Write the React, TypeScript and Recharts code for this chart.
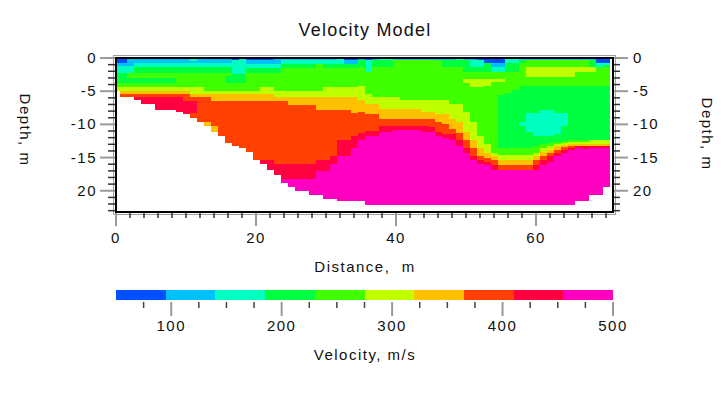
import React from 'react';
import { ComposedChart, XAxis, YAxis, Scatter, ReferenceArea } from 'recharts';

// distance of each model column (m)
const distances = [
  0, 1, 2, 3, 4, 5, 6, 7, 8, 9, 10, 11, 12, 13, 14, 15, 16, 17, 18, 19, 20,
  21, 22, 23, 24, 25, 26, 27, 28, 29, 30, 31, 32, 33, 34, 35, 36, 37, 38, 39, 40,
  41, 42, 43, 44, 45, 46, 47, 48, 49, 50, 51, 52, 53, 54, 55, 56, 57, 58, 59, 60,
  61, 62, 63, 64, 65, 66, 67, 68, 69, 70,
];

// one profile per column: "velocityClass:bottomDepth" from the surface down
const profiles = [
  '0:0.7 1:1.2 2:2.2 3:3.7 4:4.35 5:5.0',
  '0:0.7 1:1.2 2:2.2 3:3.7 4:4.35 5:4.9 6:5.4 7:5.8',
  '1:1.2 2:2.2 4:3.0 3:3.7 4:4.35 5:4.9 6:5.4 7:5.8',
  '1:0.8 2:1.35 3:2.2 4:3.0 3:3.7 4:4.35 5:4.9 6:5.4 7:5.85 8:6.4',
  '1:0.8 2:1.35 3:2.2 4:3.0 3:3.7 4:4.35 5:4.9 6:5.4 7:5.85 8:7.0',
  '1:0.8 2:1.35 3:2.2 4:3.0 3:3.7 4:4.35 5:4.9 6:5.4 7:5.85 8:7.0',
  '1:0.8 2:1.35 3:2.2 4:3.0 3:3.7 4:4.35 5:4.9 6:5.4 7:5.85 8:7.8',
  '1:0.8 2:1.35 3:2.2 4:3.0 3:3.7 4:4.35 5:4.9 6:5.4 7:5.85 8:7.8',
  '1:0.8 2:1.35 3:2.2 4:3.0 3:3.7 4:4.35 5:4.9 6:5.4 7:5.85 8:7.8',
  '1:0.8 2:1.35 3:2.2 4:4.35 5:4.9 6:5.4 7:5.85 8:8.2',
  '1:0.8 2:1.35 3:2.2 4:4.35 5:4.9 6:5.4 7:6.45 8:8.5',
  '2:0.4 1:0.8 2:1.35 3:2.2 4:4.35 5:5.4 6:5.85 7:6.45 8:8.25 7:9.1',
  '1:0.8 2:1.35 3:2.2 4:4.35 5:5.4 6:5.85 7:9.7',
  '1:0.8 2:1.35 3:2.2 4:4.95 5:5.4 6:5.85 7:9.7 6:10.2',
  '1:0.8 2:1.35 3:2.2 4:4.95 5:5.4 6:6.45 7:10.2 6:11.2',
  '1:0.8 2:1.35 3:2.2 4:4.95 5:5.4 6:6.45 7:11.8',
  '1:0.8 2:1.35 3:2.2 4:2.7 3:3.7 4:4.95 5:5.4 6:6.45 7:12.8',
  '0:0.35 2:2.4 3:3.75 4:4.95 5:5.4 6:6.45 7:13.2',
  '2:2.4 3:3.75 4:4.95 5:5.4 6:6.45 7:13.5',
  '0:0.35 1:0.9 2:1.5 3:2.25 4:4.95 5:5.4 6:6.45 7:14.2',
  '0:0.35 1:0.9 2:1.5 3:2.25 4:4.95 5:5.4 6:6.45 7:15.4',
  '0:0.35 1:0.9 2:1.5 3:2.25 4:4.35 5:5.4 6:6.45 7:15.4 8:16.0',
  '0:0.35 1:0.9 2:1.5 3:2.25 4:4.35 5:5.4 6:6.45 7:15.4 8:16.9',
  '1:0.9 2:1.5 3:2.25 4:4.95 5:5.85 6:6.45 7:15.9 8:17.7',
  '1:0.35 2:0.9 3:1.5 4:4.95 5:5.85 6:6.45 7:15.9 8:18.3 9:18.8',
  '1:0.35 2:0.9 3:1.5 4:4.95 5:5.85 6:7.05 7:15.9 8:18.3 9:19.4',
  '1:0.35 2:0.9 3:1.5 4:4.95 5:5.85 6:7.05 7:15.9 8:18.3 9:20.0',
  '1:0.35 2:0.9 3:1.5 4:4.95 5:5.85 6:7.05 7:15.9 8:18.3 9:20.0',
  '1:0.35 2:0.9 3:1.5 4:4.95 5:5.85 6:7.05 7:15.9 8:18.3 9:20.6',
  '1:0.35 2:0.9 4:4.95 5:5.85 6:7.8 7:15.4 8:17.0 9:20.6',
  '1:0.35 2:0.9 3:1.5 4:4.35 5:5.85 6:7.8 7:15.4 8:17.0 9:21.2',
  '1:0.35 2:0.9 3:1.5 4:4.35 5:5.85 6:7.8 7:14.8 8:15.9 9:21.2',
  '2:0.9 3:1.5 4:4.35 5:5.85 6:7.8 7:12.3 8:14.8 9:21.6',
  '0:0.35 1:0.9 3:1.5 4:4.35 5:5.85 6:7.8 7:12.3 8:14.8 9:21.6',
  '0:0.35 1:0.9 3:1.5 4:4.35 5:5.85 6:8.25 7:11.8 8:13.5 9:21.6',
  '1:0.35 3:1.4 4:4.2 5:6.3 6:8.1 7:11.3 8:12.3 9:21.6',
  '0:0.35 2:2.1 4:5.4 5:6.9 6:8.4 7:11.0 8:11.8 9:22.1',
  '1:0.35 3:1.4 4:5.9 5:6.9 6:8.4 7:11.0 8:11.8 9:22.1',
  '2:0.35 3:1.4 4:5.9 5:7.65 6:9.15 7:10.2 8:11.2 9:22.1',
  '2:0.35 3:1.4 4:5.9 5:7.65 6:9.15 7:10.2 8:11.2 9:22.1',
  '1:0.35 4:5.9 5:7.65 6:9.15 7:10.2 8:10.8 9:22.1',
  '1:0.35 4:6.4 5:7.65 6:9.15 7:10.2 8:10.8 9:22.1',
  '1:0.35 4:6.4 5:7.65 6:9.15 7:10.2 8:10.8 9:22.1',
  '1:0.35 4:6.4 5:7.65 6:9.15 7:10.2 8:10.8 9:22.1',
  '1:0.35 4:6.4 5:8.2 6:9.15 7:10.2 8:11.2 9:22.1',
  '1:0.35 4:6.4 5:8.2 6:9.15 7:10.4 8:11.2 9:22.1',
  '1:0.35 4:6.4 5:8.4 6:9.6 7:11.2 8:11.8 9:22.1',
  '1:0.35 3:1.4 4:6.4 5:8.5 6:9.9 7:11.4 8:12.0 9:22.1',
  '1:0.35 3:1.4 4:6.9 5:9.15 6:10.7 7:11.5 8:12.3 9:22.1',
  '2:0.35 3:1.4 4:6.9 5:9.6 6:11.3 7:12.3 8:13.3 9:22.1',
  '1:0.35 3:2.1 4:3.15 5:3.75 4:8.1 5:11.2 6:12.3 7:13.6 8:14.3 9:22.1',
  '1:0.35 2:1.35 3:2.1 4:3.15 5:4.35 4:9.7 5:12.3 6:13.6 7:14.8 8:15.4 9:22.1',
  '0:0.35 2:1.35 3:2.1 4:3.15 5:4.35 4:11.8 5:13.6 6:14.8 7:15.4 8:15.9 9:22.1',
  '0:0.7 3:2.1 4:3.15 5:4.25 4:13.0 5:14.3 6:15.1 7:15.6 8:16.1 9:22.1',
  '0:0.7 1:1.4 2:2.1 4:3.15 5:3.65 4:14.3 5:14.8 6:15.4 7:16.1 8:16.8 9:22.1',
  '0:0.7 1:1.4 2:2.1 4:3.15 5:3.65 4:5.6 3:13.6 4:14.6 5:15.3 6:16.1 7:16.8 9:22.1',
  '2:0.7 3:2.1 4:5.2 3:13.6 4:14.6 5:15.3 6:16.1 7:16.8 9:22.1',
  '2:0.7 3:2.1 4:4.8 3:13.6 4:14.6 5:15.3 6:16.1 7:16.8 9:22.1',
  '1:0.35 3:0.8 4:4.25 3:9.7 2:10.3 3:13.6 4:14.6 5:15.3 6:16.1 7:16.8 9:22.1',
  '1:0.35 4:1.4 5:2.8 4:4.25 3:8.3 2:11.2 3:13.6 4:14.6 5:15.3 6:16.1 7:16.8 9:22.1',
  '1:0.35 4:1.4 5:2.8 4:4.25 3:8.3 2:11.8 3:13.3 4:14.3 5:14.8 6:15.4 7:16.1 8:16.8 9:22.1',
  '1:0.35 4:1.4 5:2.8 4:4.25 3:7.8 2:11.8 3:13.0 4:13.6 5:14.1 6:14.8 7:15.4 8:16.1 9:22.1',
  '1:0.35 4:1.4 5:2.8 4:4.25 3:7.8 2:11.8 3:12.8 4:13.3 5:13.8 6:14.3 7:14.8 8:15.6 9:22.1',
  '1:0.35 4:1.4 5:2.8 4:4.25 3:8.3 2:11.4 3:12.6 4:13.0 5:13.3 6:13.8 7:14.3 8:14.8 9:22.1',
  '1:0.35 4:1.4 5:2.8 4:4.25 3:8.3 2:10.3 3:12.5 4:12.8 5:13.1 6:13.4 7:13.8 8:14.3 9:22.1',
  '1:0.35 4:1.4 5:2.8 4:4.25 3:12.4 4:12.7 5:13.0 6:13.3 7:13.6 8:13.8 9:22.1',
  '1:0.35 4:1.4 5:2.15 4:4.25 3:12.3 4:12.6 5:12.9 6:13.2 8:13.6 9:21.6',
  '1:0.35 4:1.4 5:2.15 4:4.25 3:12.3 4:12.6 5:12.9 6:13.2 8:13.7 9:21.6',
  '1:0.35 3:1.4 5:2.15 4:4.25 3:12.4 5:12.9 6:13.2 8:13.6 9:20.6',
  '0:0.7 2:1.4 4:4.25 3:12.4 5:12.9 6:13.2 8:13.6 9:20.6',
  '0:0.7 2:1.0 3:1.4 4:4.25 3:12.4 5:12.9 6:13.2 8:13.6 9:19.4',
];

// colour scale bins (m/s)
const velocityEdges = [50, 95, 140, 185, 230, 275, 320, 365, 410, 455, 500];
const velocityColors = [
  '#0050FF', '#00C0FF', '#00FFC0', '#00FF40', '#40FF00',
  '#C0FF00', '#FFC000', '#FF4000', '#FF0040', '#FF00C0',
];

const distanceTicks = [
  0, 2, 4, 6, 8, 10, 12, 14, 16, 18, 20, 22, 24, 26, 28, 30, 32, 34,
  36, 38, 40, 42, 44, 46, 48, 50, 52, 54, 56, 58, 60, 62, 64, 66, 68, 70,
];
const depthTicks = [0, 1, 2, 3, 4, 5, 6, 7, 8, 9, 10, 11, 12, 13, 14, 15, 16, 17, 18, 19, 20, 21, 22, 23];
const depthLabelValues = [0, 5, 10, 15, 20];
const depthLabelText = ['0', '-5', '-10', '-15', '20'];
const velocityTicks = [75, 100, 125, 150, 175, 200, 225, 250, 275, 300, 325, 350, 375, 400, 425, 450, 475, 500];

const X_MAX = 71;
const DEPTH_MAX = 23.2;
const FONT = "'Liberation Sans', Arial, Helvetica, sans-serif";

const cells = profiles.flatMap((profile, i) => {
  const x = distances[i];
  let top = 0;
  return profile.split(' ').map((tok) => {
    const [cls, bottom] = tok.split(':').map(Number);
    const cell = { x1: Math.max(0, x - 0.5), x2: Math.min(X_MAX, x + 0.5), y1: top, y2: bottom, cls };
    top = bottom;
    return cell;
  });
});

const crispRect = (p: any) => (
  <rect x={p.x} y={p.y} width={p.width} height={p.height} fill={p.fill} shapeRendering="crispEdges" />
);

const plotFrame = (p: any) => (
  <g fill="none">
    <rect x={p.x - 2.5} y={p.y - 2.5} width={p.width + 5} height={p.height + 5} stroke="#a0a0a0" strokeWidth={1} />
    <rect x={p.x} y={p.y} width={p.width} height={p.height} stroke="#000" strokeWidth={2} />
  </g>
);

const depthLabel = (v: number) => {
  const i = depthLabelValues.indexOf(v);
  return i >= 0 ? depthLabelText[i] : null;
};

const tickText = { fontSize: 15, fontFamily: FONT, letterSpacing: 1.5, fill: '#111' };

function DistanceTick({ x, y, payload }: any) {
  const major = payload.value % 20 === 0;
  return (
    <g>
      <line x1={x} x2={x} y1={y + 1} y2={y + (major ? 14 : 6)} stroke={major ? '#9a9a9a' : '#333'} strokeWidth={major ? 2 : 1.5} />
      {major && <text x={x} y={y + 31} textAnchor="middle" {...tickText}>{payload.value}</text>}
    </g>
  );
}

function LeftDepthTick({ x, y, payload }: any) {
  const label = depthLabel(payload.value);
  return (
    <g>
      <line x1={x - 1} x2={x - (label ? 16 : 8)} y1={y} y2={y} stroke={label ? '#9a9a9a' : '#333'} strokeWidth={label ? 2 : 1.5} />
      {label && <text x={x - 19} y={y + 5} textAnchor="end" {...tickText}>{label}</text>}
    </g>
  );
}

function RightDepthTick({ x, y, payload }: any) {
  const label = depthLabel(payload.value);
  return (
    <g>
      <line x1={x + 1} x2={x + (label ? 15 : 7)} y1={y} y2={y} stroke={label ? '#9a9a9a' : '#333'} strokeWidth={label ? 2 : 1.5} />
      {label && <text x={x + 20} y={y + 5} textAnchor="start" {...tickText}>{label}</text>}
    </g>
  );
}

function VelocityTick({ x, y, payload }: any) {
  const major = payload.value % 100 === 0;
  return (
    <g>
      <line x1={x} x2={x} y1={y + 2} y2={y + (major ? 16 : 8)} stroke={major ? '#9a9a9a' : '#444'} strokeWidth={major ? 2 : 1.5} />
      {major && <text x={x} y={y + 31} textAnchor="middle" {...tickText}>{payload.value}</text>}
    </g>
  );
}

const textStyle: React.CSSProperties = {
  position: 'absolute',
  transform: 'translate(-50%, -50%)',
  whiteSpace: 'pre',
  fontFamily: FONT,
  color: '#111',
};

export default function App() {
  return (
    <div style={{ position: 'absolute', left: 0, top: 0, width: 724, height: 397, background: '#fff', overflow: 'hidden' }}>
      <div style={{ ...textStyle, left: 365, top: 30, fontSize: 18, letterSpacing: 1.2 }}>Velocity Model</div>
      <div style={{ ...textStyle, left: 25, top: 130, fontSize: 15, letterSpacing: 1.5, transform: 'translate(-50%, -50%) rotate(90deg)' }}>Depth, m</div>
      <div style={{ ...textStyle, left: 707, top: 134, fontSize: 15, letterSpacing: 1.5, transform: 'translate(-50%, -50%) rotate(90deg)' }}>Depth, m</div>
      <div style={{ ...textStyle, left: 365, top: 266, fontSize: 15, letterSpacing: 1.5 }}>{'Distance,  m'}</div>
      <div style={{ ...textStyle, left: 365, top: 354, fontSize: 15, letterSpacing: 1.5 }}>Velocity, m/s</div>

      <div style={{ position: 'absolute', left: 0, top: 0 }}>
        <ComposedChart width={724} height={260} margin={{ top: 58, left: 56, right: 51, bottom: 8 }}>
          <XAxis
            type="number"
            dataKey="x"
            domain={[0, X_MAX]}
            allowDataOverflow
            ticks={distanceTicks}
            interval={0}
            height={40}
            axisLine={false}
            tickLine={false}
            tickSize={0}
            tickMargin={0}
            tick={<DistanceTick />}
          />
          <YAxis
            yAxisId="left"
            type="number"
            dataKey="d"
            domain={[0, DEPTH_MAX]}
            reversed
            allowDataOverflow
            ticks={depthTicks}
            interval={0}
            width={60}
            axisLine={false}
            tickLine={false}
            tickSize={0}
            tickMargin={0}
            tick={<LeftDepthTick />}
          />
          <YAxis
            yAxisId="right"
            orientation="right"
            type="number"
            domain={[0, DEPTH_MAX]}
            reversed
            allowDataOverflow
            ticks={depthTicks}
            interval={0}
            width={60}
            axisLine={false}
            tickLine={false}
            tickSize={0}
            tickMargin={0}
            tick={<RightDepthTick />}
          />
          {cells.map((c, i) => (
            <ReferenceArea
              key={i}
              yAxisId="left"
              x1={c.x1}
              x2={c.x2}
              y1={c.y1}
              y2={c.y2}
              fill={velocityColors[c.cls]}
              fillOpacity={1}
              stroke="none"
              ifOverflow="visible"
              shape={crispRect}
            />
          ))}
          <ReferenceArea yAxisId="left" x1={0} x2={X_MAX} y1={0} y2={DEPTH_MAX} ifOverflow="visible" shape={plotFrame} />
          <Scatter yAxisId="left" data={[{ x: 0, d: 0 }]} isAnimationActive={false} shape={() => <g />} />
        </ComposedChart>
      </div>

      <div style={{ position: 'absolute', left: 0, top: 280 }}>
        <ComposedChart width={724} height={70} margin={{ top: 10, left: 116, right: 111, bottom: 20 }}>
          <XAxis
            type="number"
            dataKey="v"
            domain={[velocityEdges[0], velocityEdges[velocityEdges.length - 1]]}
            allowDataOverflow
            ticks={velocityTicks}
            interval={0}
            height={30}
            axisLine={false}
            tickLine={false}
            tickSize={0}
            tickMargin={0}
            tick={<VelocityTick />}
          />
          <YAxis type="number" dataKey="k" domain={[0, 1]} hide />
          {velocityColors.map((color, i) => (
            <ReferenceArea
              key={color}
              x1={velocityEdges[i]}
              x2={velocityEdges[i + 1]}
              y1={0}
              y2={1}
              fill={color}
              fillOpacity={1}
              stroke="none"
              shape={crispRect}
            />
          ))}
          <Scatter data={[{ v: 50, k: 0 }]} isAnimationActive={false} shape={() => <g />} />
        </ComposedChart>
      </div>
    </div>
  );
}
